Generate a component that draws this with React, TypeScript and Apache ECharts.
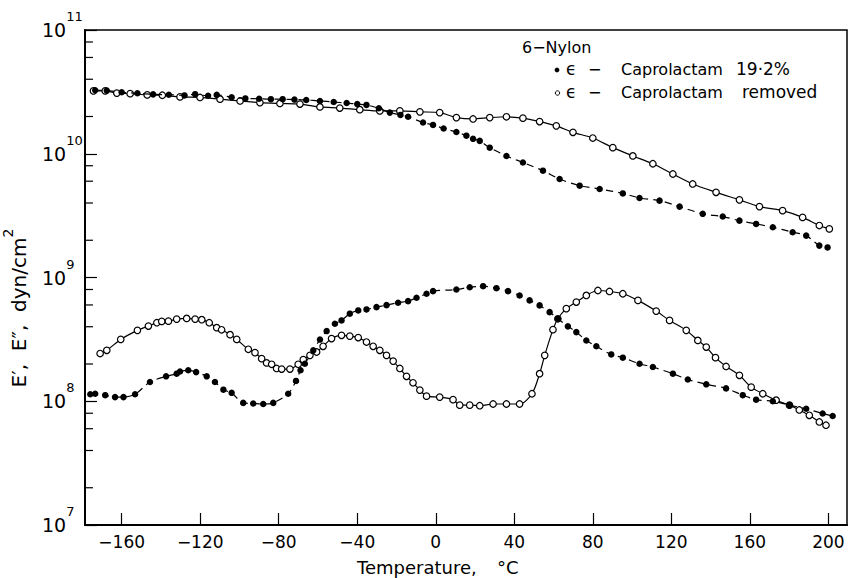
import React, { useEffect, useRef } from "react";
import * as echarts from "echarts";

// Temperature (°C) / modulus (dyn/cm²) pairs
const ePrimeFilled: [number, number][] = [
  [-173.5, 3.26e10], [-167.6, 3.24e10], [-160, 3.14e10], [-152, 3.08e10], [-144, 3.02e10],
  [-136, 3.0e10], [-128, 2.96e10], [-122.6, 3.03e10], [-116, 2.94e10], [-111.6, 2.99e10],
  [-104, 2.86e10], [-97, 2.8e10], [-90, 2.78e10], [-84, 2.76e10], [-78, 2.76e10],
  [-72, 2.74e10], [-66, 2.72e10], [-59, 2.67e10], [-52, 2.62e10], [-45.4, 2.57e10],
  [-40, 2.52e10], [-35.3, 2.48e10], [-29, 2.33e10], [-23.4, 2.15e10], [-18, 2.06e10],
  [-14.1, 1.99e10], [-6.5, 1.79e10], [-1.4, 1.71e10], [4, 1.6e10], [10.5, 1.5e10],
  [15.6, 1.4e10], [19, 1.32e10], [22.4, 1.27e10], [27.5, 1.12e10], [36, 9.6e9],
  [44.4, 8.5e9], [54.6, 7.3e9], [63.1, 6.25e9], [73.3, 5.52e9], [83.5, 5.19e9],
  [95.3, 4.78e9], [103.8, 4.39e9], [114, 4.18e9], [124.2, 3.74e9], [136, 3.27e9],
  [146.2, 3.11e9], [154.7, 2.88e9], [163.2, 2.71e9], [171.7, 2.55e9], [181.8, 2.32e9],
  [188.7, 2.18e9], [195.4, 1.81e9], [199.6, 1.75e9],
];

const ePrimeOpen: [number, number][] = [
  [-174.4, 3.22e10], [-168.4, 3.22e10], [-162.5, 3.09e10], [-155.7, 3.06e10], [-147, 2.99e10],
  [-139.3, 2.97e10], [-130.3, 2.88e10], [-120.1, 2.85e10], [-109.9, 2.76e10], [-99.7, 2.67e10],
  [-89.6, 2.59e10], [-79.4, 2.55e10], [-69.2, 2.52e10], [-59, 2.39e10], [-48.9, 2.34e10],
  [-38.7, 2.27e10], [-28.5, 2.22e10], [-18.3, 2.22e10], [-8.1, 2.18e10], [2, 2.15e10],
  [10.5, 1.96e10], [19, 1.91e10], [27.5, 1.96e10], [36, 1.99e10], [44.4, 1.94e10],
  [52.9, 1.82e10], [61.4, 1.68e10], [69.9, 1.49e10], [80, 1.34e10], [90.2, 1.12e10],
  [100.4, 9.6e9], [110.6, 8.3e9], [120.8, 6.86e9], [130.9, 5.7e9], [142.8, 4.88e9],
  [154.7, 4.24e9], [164.9, 3.74e9], [176.7, 3.47e9], [186.9, 3.06e9], [195.4, 2.63e9],
  [200.5, 2.47e9],
];

const eDoublePrimeFilled: [number, number][] = [
  [-176, 1.14e8], [-173.5, 1.15e8], [-168.4, 1.12e8], [-163.4, 1.08e8], [-159.1, 1.08e8],
  [-153.2, 1.14e8], [-145.6, 1.43e8], [-137.4, 1.59e8], [-132, 1.67e8], [-130.3, 1.74e8],
  [-126.1, 1.78e8], [-122.1, 1.72e8], [-116.7, 1.59e8], [-112.5, 1.43e8], [-108.2, 1.24e8],
  [-104, 1.17e8], [-98.1, 9.7e7], [-93, 9.6e7], [-87.9, 9.5e7], [-82.8, 9.7e7],
  [-75.2, 1.15e8], [-71.2, 1.46e8], [-68.9, 1.78e8], [-66.7, 2.01e8], [-62.4, 2.58e8],
  [-59, 3.15e8], [-55.6, 3.69e8], [-51.4, 4.23e8], [-48, 4.5e8], [-43.8, 5.1e8],
  [-39.5, 5.42e8], [-35.3, 5.52e8], [-30.2, 5.76e8], [-25.1, 5.98e8], [-19.2, 6.25e8],
  [-14.1, 6.44e8], [-9.8, 6.86e8], [-4.7, 7.39e8], [-1.4, 7.76e8], [10.5, 8.0e8],
  [17.3, 8.35e8], [24.1, 8.51e8], [30.9, 8.2e8], [36.8, 7.76e8], [42.7, 7.16e8],
  [47.8, 6.53e8], [52.9, 5.95e8], [58, 5.25e8], [62.2, 4.64e8], [67.3, 4.03e8],
  [71.6, 3.62e8], [76.7, 3.1e8], [81.8, 2.78e8], [89.4, 2.39e8], [95.3, 2.25e8],
  [103.8, 2.01e8], [110.6, 1.89e8], [120.8, 1.67e8], [128.4, 1.5e8], [137.8, 1.37e8],
  [147.9, 1.27e8], [156.4, 1.12e8], [163.2, 1.03e8], [171.7, 1.0e8], [180.2, 9.3e7],
  [188.7, 8.7e7], [197.1, 7.96e7], [202.2, 7.6e7],
];

const eDoublePrimeOpen: [number, number][] = [
  [-171, 2.43e8], [-167.6, 2.58e8], [-160.5, 3.16e8], [-152, 3.74e8], [-146.4, 4.05e8],
  [-142.1, 4.31e8], [-139.6, 4.42e8], [-136.2, 4.44e8], [-132, 4.61e8], [-126.9, 4.67e8],
  [-122.6, 4.61e8], [-119.2, 4.56e8], [-115.4, 4.31e8], [-111.6, 3.93e8], [-109.1, 3.78e8],
  [-104.8, 3.45e8], [-101.4, 3.16e8], [-95.5, 2.63e8], [-92.1, 2.47e8], [-88.7, 2.21e8],
  [-86.2, 2.04e8], [-83.6, 1.99e8], [-81.1, 1.84e8], [-78.5, 1.82e8], [-74.3, 1.82e8],
  [-70.1, 1.99e8], [-67.5, 2.17e8], [-64.1, 2.35e8], [-60.7, 2.5e8], [-57.4, 2.78e8],
  [-53.1, 3.21e8], [-48, 3.41e8], [-43.8, 3.36e8], [-39.5, 3.27e8], [-35.3, 3.01e8],
  [-31.9, 2.78e8], [-28.5, 2.58e8], [-25.1, 2.35e8], [-21.7, 2.11e8], [-18.3, 1.84e8],
  [-14.9, 1.59e8], [-11.6, 1.41e8], [-8.1, 1.23e8], [-4.7, 1.1e8], [2, 1.08e8],
  [8.8, 1.03e8], [12.2, 9.3e7], [17.3, 9.3e7], [22.4, 9.2e7], [29.2, 9.5e7],
  [36, 9.5e7], [42.7, 9.5e7], [49, 1.15e8], [52.9, 1.67e8], [55.5, 2.35e8],
  [59.7, 3.79e8], [62.2, 4.64e8], [66.5, 5.6e8], [71.6, 6.33e8], [76.7, 7.16e8],
  [82.6, 7.85e8], [88.5, 7.71e8], [95.3, 7.39e8], [103, 6.53e8], [112.3, 5.35e8],
  [119.1, 4.5e8], [127.6, 3.74e8], [133.5, 3.1e8], [137.8, 2.74e8], [142.5, 2.25e8],
  [147.9, 1.91e8], [154.7, 1.62e8], [160.7, 1.3e8], [166.6, 1.15e8], [173.4, 1.02e8],
  [180.2, 9.3e7], [185.2, 8.5e7], [190.3, 7.7e7], [195.4, 6.8e7], [198.8, 6.4e7],
];

const xTickValues = [-160, -120, -80, -40, 0, 40, 80, 120, 160, 200];
const yMinorTicks = [
  2e7, 4e7, 6e7, 8e7, 2e8, 4e8, 6e8, 8e8, 2e9, 4e9, 6e9, 8e9, 2e10, 4e10, 6e10, 8e10,
];
const X_MIN = -178.7;
const X_MAX = 209.5;
const FONT = "DejaVu Sans";

const txt = (x: number, y: number, text: string, size: number) => ({
  type: "text",
  x,
  y,
  style: { text, fontFamily: FONT, fontSize: size, fill: "#000", verticalAlign: "middle" },
});

export default function App() {
  const ref = useRef<HTMLDivElement>(null);
  useEffect(() => {
    if (!ref.current) return;
    const chart = echarts.init(ref.current, null, { renderer: "svg" });
    const filledSeries = (name: string, data: [number, number][]) => ({
      name,
      type: "line",
      data,
      smooth: 0.3,
      showSymbol: true,
      showAllSymbol: true,
      symbol: "circle",
      symbolSize: 6.5,
      itemStyle: { color: "#000" },
      lineStyle: { color: "#000", width: 1.2, type: [7, 5] },
      z: 3,
    });
    const openSeries = (name: string, data: [number, number][]) => ({
      name,
      type: "line",
      data,
      smooth: 0.3,
      showSymbol: true,
      showAllSymbol: true,
      symbol: "circle",
      symbolSize: 6.5,
      itemStyle: { color: "#fff", borderColor: "#000", borderWidth: 1.2 },
      lineStyle: { color: "#000", width: 1.2 },
      z: 2,
    });
    chart.setOption({
      animation: false,
      backgroundColor: "#fff",
      grid: {
        left: 85,
        right: 2,
        top: 30,
        bottom: 53,
        show: true,
        borderColor: "#000",
        borderWidth: 1.5,
        containLabel: false,
      },
      xAxis: {
        type: "value",
        min: X_MIN,
        max: X_MAX,
        axisLine: { show: true, onZero: false, lineStyle: { color: "#000", width: 2 } },
        axisTick: {
          show: true,
          inside: true,
          length: 12,
          customValues: xTickValues,
          lineStyle: { color: "#000", width: 1.2 },
        },
        axisLabel: {
          customValues: xTickValues,
          margin: 8,
          color: "#000",
          fontFamily: FONT,
          fontSize: 17,
          formatter: (v: number) => String(v).replace("-", "\u2212"),
        },
        splitLine: { show: false },
      },
      yAxis: {
        type: "log",
        logBase: 10,
        min: 1e7,
        max: 1e11,
        axisLine: { show: true, onZero: false, lineStyle: { color: "#000", width: 2 } },
        axisTick: { show: true, inside: true, length: 12, lineStyle: { color: "#000", width: 1.2 } },
        minorTick: { show: false },
        splitLine: { show: false },
        axisLabel: {
          align: "left",
          margin: 43,
          formatter: (v: number) => `{b|10}{s|${Math.round(Math.log10(v))}}`,
          rich: {
            b: { fontFamily: FONT, fontSize: 19, color: "#000", lineHeight: 40 },
            s: { fontFamily: FONT, fontSize: 13, color: "#000", lineHeight: 40, verticalAlign: "top" },
          },
        },
      },
      graphic: [
        {
          type: "text",
          x: 19,
          y: 308,
          rotation: Math.PI / 2,
          style: {
            text: "{a|E\u2032,  E\u2033,  dyn/cm}{s|2}",
            align: "center",
            verticalAlign: "middle",
            rich: {
              a: { fontFamily: FONT, fontSize: 20, fill: "#000", lineHeight: 36 },
              s: { fontFamily: FONT, fontSize: 14, fill: "#000", lineHeight: 36, verticalAlign: "top" },
            },
          },
        },
        txt(357, 567, "Temperature,", 18),
        txt(497, 567, "\u00b0C", 18),
        txt(522, 47, "6\u2212Nylon", 16),
        { type: "circle", shape: { cx: 557, cy: 70, r: 2.4 }, style: { fill: "#000" } },
        txt(566, 69, "\u03f5", 17),
        txt(588, 69, "\u2212", 16),
        txt(621, 69, "Caprolactam", 16),
        txt(736, 69, "19\u00b72%", 17),
        {
          type: "circle",
          shape: { cx: 557.5, cy: 93, r: 2.2 },
          style: { fill: "#fff", stroke: "#000", lineWidth: 1 },
        },
        txt(566, 92, "\u03f5", 17),
        txt(588, 92, "\u2212", 16),
        txt(621, 92, "Caprolactam", 16),
        txt(742, 92, "removed", 17),
      ],
      series: [
        {
          name: "minor ticks",
          type: "custom",
          data: yMinorTicks.map((v) => [X_MIN, v]),
          encode: { x: 0, y: 1 },
          silent: true,
          clip: false,
          z: 5,
          renderItem: (params: any, api: any) => {
            const p = api.coord([api.value(0), api.value(1)]);
            return {
              type: "line",
              shape: { x1: p[0], y1: p[1], x2: p[0] + 8, y2: p[1] },
              style: { stroke: "#000", lineWidth: 1.2 },
            };
          },
        },
        openSeries("E\u2032 \u03f5-Caprolactam removed", ePrimeOpen),
        filledSeries("E\u2032 \u03f5-Caprolactam 19.2%", ePrimeFilled),
        openSeries("E\u2033 \u03f5-Caprolactam removed", eDoublePrimeOpen),
        filledSeries("E\u2033 \u03f5-Caprolactam 19.2%", eDoublePrimeFilled),
      ],
    });
    return () => chart.dispose();
  }, []);
  return (
    <div
      ref={ref}
      style={{ position: "absolute", left: 0, top: 0, width: 849, height: 578, background: "#fff" }}
    />
  );
}
